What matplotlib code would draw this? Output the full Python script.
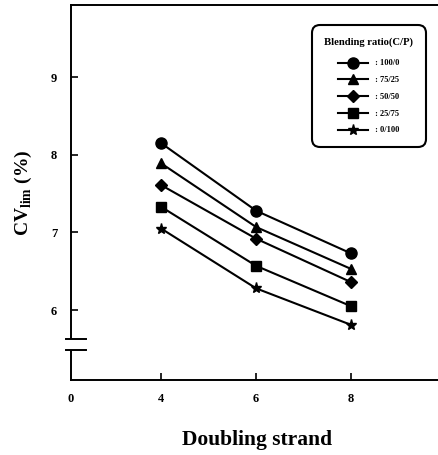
import matplotlib
matplotlib.use("Agg")
import matplotlib.pyplot as plt
import matplotlib.transforms as mtransforms
from matplotlib.lines import Line2D
from matplotlib.patches import Rectangle

plt.rcParams["font.family"] = ["Liberation Serif", "DejaVu Serif"]
plt.rcParams["font.weight"] = "bold"
plt.rcParams["mathtext.fontset"] = "custom"
plt.rcParams["mathtext.rm"] = "Liberation Serif:bold"
plt.rcParams["mathtext.bf"] = "Liberation Serif:bold"

# doubling strands and CV values
strands = [4, 6, 8]
ratios = ["100/0", "75/25", "50/50", "25/75", "0/100"]
cv_100_0 = [8.15, 7.28, 6.73]
cv_75_25 = [7.89, 7.07, 6.53]
cv_50_50 = [7.61, 6.92, 6.36]
cv_25_75 = [7.33, 6.57, 6.05]
cv_0_100 = [7.05, 6.28, 5.81]
series = [cv_100_0, cv_75_25, cv_50_50, cv_25_75, cv_0_100]

markers = ["o", "^", "D", "s", "*"]
msizes = [8, 6.5, 6, 7, 8]

fig = plt.figure(figsize=(4.38, 4.55), dpi=100)
ax = fig.add_axes([71 / 438, 1 - 380 / 455, (438 - 71) / 438, 375 / 455])

for vals, lab, m, ms in zip(series, ratios, markers, msizes):
    ax.plot(strands, vals, color="black", lw=1.5, marker=m, ms=ms,
            mfc="black", mec="black", label=" : " + lab)

ax.set_xlim(2.1, 9.83)
ax.set_ylim(5.1, 9.93)
ax.spines["right"].set_visible(False)
for s in ["left", "bottom", "top"]:
    ax.spines[s].set_linewidth(1.4)

ax.set_xticks([2.1] + strands)
ax.set_xticklabels(["0"] + [str(v) for v in strands])
ax.set_yticks([6, 7, 8, 9])
ax.tick_params(axis="both", direction="in", length=5, width=1.2,
               labelsize=9, top=False, right=False)
ax.tick_params(axis="x", pad=9)
ax.tick_params(axis="y", pad=10)
ax.xaxis.get_major_ticks()[0].tick1line.set_visible(False)

# axis break marks on the y axis
trans = mtransforms.blended_transform_factory(ax.transAxes, ax.transData)
ax.add_patch(Rectangle((-0.02, 5.49), 0.04, 0.14, transform=trans,
                       facecolor="white", edgecolor="none", zorder=5,
                       clip_on=False))
for yb in (5.49, 5.63):
    ax.add_line(Line2D([-0.014, 0.041], [yb, yb], transform=trans,
                       color="black", lw=1.4, zorder=6, clip_on=False))

ax.set_ylabel(r"CV$_{\mathrm{lim}}$ (%)", fontsize=14, fontweight="bold",
              labelpad=12)
fig.text(257 / 438, 1 - 440 / 455, "Doubling strand", fontsize=15.5,
         fontweight="bold", ha="center", va="center")

leg = ax.legend(loc="upper right", bbox_to_anchor=(0.967, 0.947),
                borderaxespad=0, title="Blending ratio(C/P)",
                title_fontproperties={"size": 7.7, "weight": "bold"},
                prop={"size": 6, "weight": "bold"}, handlelength=3.6,
                handletextpad=0.6, labelspacing=1.05, fancybox=True,
                framealpha=1, edgecolor="black", borderpad=1.5)
leg.get_frame().set_linewidth(1.5)
leg.get_frame().set_boxstyle("round", pad=0, rounding_size=1.0)
leg._legend_box.sep = 9

fig.savefig("out.png", dpi=100)
